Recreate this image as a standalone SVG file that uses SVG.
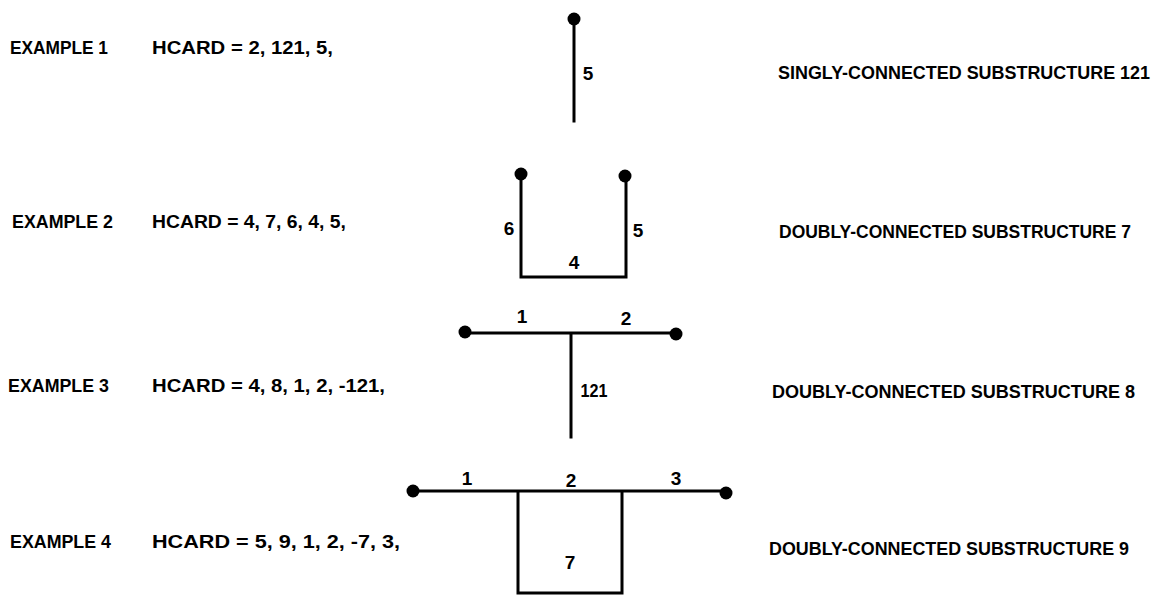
<svg xmlns="http://www.w3.org/2000/svg" width="1167" height="597" viewBox="0 0 1167 597">
<style>
text{font-family:"Liberation Sans",Arial,sans-serif;font-weight:bold;font-size:19px;fill:#000}
.lbl{font-size:19px;text-anchor:middle}
.ln{stroke:#000;stroke-width:3;fill:none;stroke-linecap:square}
.dot{fill:#000}
</style>
<rect width="1167" height="597" fill="#fff"/>
<g id="labels">
<text x="10" y="54" textLength="98" lengthAdjust="spacingAndGlyphs">EXAMPLE 1</text>
<text x="152" y="54" textLength="181" lengthAdjust="spacingAndGlyphs">HCARD = 2, 121, 5,</text>
<text x="778" y="79" style="font-size:18px" textLength="372" lengthAdjust="spacingAndGlyphs">SINGLY-CONNECTED SUBSTRUCTURE 121</text>
<text x="12" y="228" textLength="101" lengthAdjust="spacingAndGlyphs">EXAMPLE 2</text>
<text x="152" y="228" textLength="194" lengthAdjust="spacingAndGlyphs">HCARD = 4, 7, 6, 4, 5,</text>
<text x="779" y="238" textLength="352" lengthAdjust="spacingAndGlyphs">DOUBLY-CONNECTED SUBSTRUCTURE 7</text>
<text x="8" y="392" textLength="101" lengthAdjust="spacingAndGlyphs">EXAMPLE 3</text>
<text x="152" y="392" textLength="233" lengthAdjust="spacingAndGlyphs">HCARD = 4, 8, 1, 2, -121,</text>
<text x="772" y="398" textLength="363" lengthAdjust="spacingAndGlyphs">DOUBLY-CONNECTED SUBSTRUCTURE 8</text>
<text x="10" y="548" textLength="101" lengthAdjust="spacingAndGlyphs">EXAMPLE 4</text>
<text x="152" y="548" textLength="248" lengthAdjust="spacingAndGlyphs">HCARD = 5, 9, 1, 2, -7, 3,</text>
<text x="769" y="555" textLength="360" lengthAdjust="spacingAndGlyphs">DOUBLY-CONNECTED SUBSTRUCTURE 9</text>
</g>
<g id="connectors">
<path class="ln" d="M574 19 V121"/>
<path class="ln" d="M521 174 V277 H626 V176"/>
<path class="ln" d="M465 333 H676 M571 333 V437"/>
<path class="ln" d="M413 491 H726 M518 491 V593 H622 V491"/>
</g>
<g id="node-ex1">
<circle class="dot" cx="574" cy="19" r="6.5"/>
<text class="lbl" x="588" y="80">5</text>
</g>
<g id="node-ex2">
<circle class="dot" cx="521" cy="174" r="6.5"/>
<circle class="dot" cx="625" cy="176" r="6.5"/>
<text class="lbl" x="509" y="235">6</text>
<text class="lbl" x="638" y="237">5</text>
<text class="lbl" x="574" y="269">4</text>
</g>
<g id="node-ex3">
<circle class="dot" cx="465" cy="332" r="6.5"/>
<circle class="dot" cx="676" cy="334" r="6.5"/>
<text class="lbl" x="522" y="323">1</text>
<text class="lbl" x="626" y="325">2</text>
<text class="lbl" x="594" y="397" textLength="27" lengthAdjust="spacingAndGlyphs">121</text>
</g>
<g id="node-ex4">
<circle class="dot" cx="413" cy="491" r="6.5"/>
<circle class="dot" cx="726" cy="493" r="6.5"/>
<text class="lbl" x="467" y="485">1</text>
<text class="lbl" x="571" y="487">2</text>
<text class="lbl" x="676" y="485">3</text>
<text class="lbl" x="570" y="569">7</text>
</g>
</svg>
